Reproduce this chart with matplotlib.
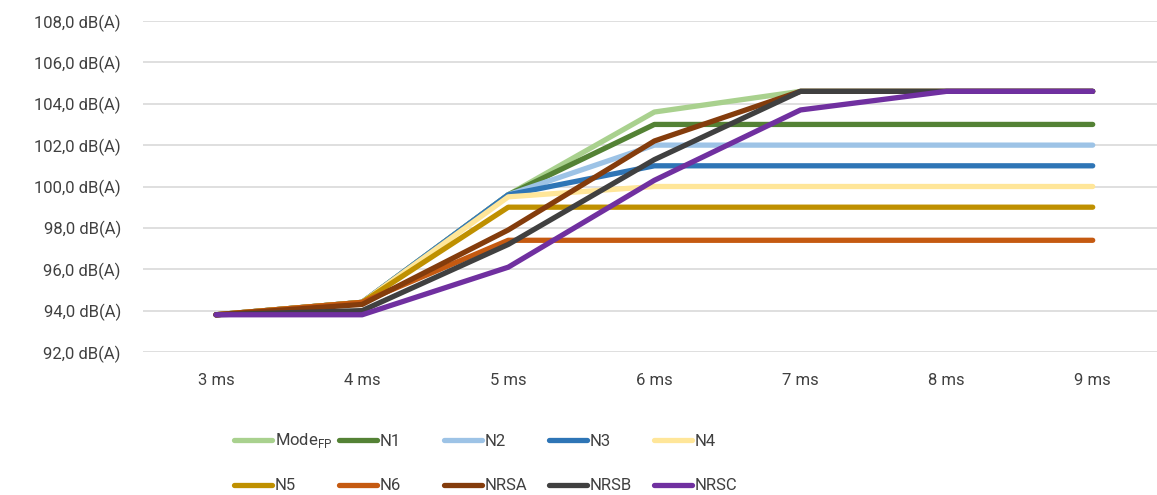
import matplotlib.pyplot as plt
from matplotlib.ticker import FuncFormatter

plt.rcParams['font.family'] = ['Roboto', 'DejaVu Sans']
plt.rcParams['mathtext.fontset'] = 'custom'
plt.rcParams['mathtext.rm'] = 'Roboto'

# data
times = ['3 ms', '4 ms', '5 ms', '6 ms', '7 ms', '8 ms', '9 ms']
mode_fp = [93.8, 94.4, 99.6, 103.6, 104.6, 104.6, 104.6]
n1 = [93.8, 94.4, 99.6, 103.0, 103.0, 103.0, 103.0]
n2 = [93.8, 94.4, 99.6, 102.0, 102.0, 102.0, 102.0]
n3 = [93.8, 94.4, 99.6, 101.0, 101.0, 101.0, 101.0]
n4 = [93.8, 94.4, 99.5, 100.0, 100.0, 100.0, 100.0]
n5 = [93.8, 94.4, 99.0, 99.0, 99.0, 99.0, 99.0]
n6 = [93.8, 94.4, 97.4, 97.4, 97.4, 97.4, 97.4]
nrsa = [93.8, 94.3, 97.9, 102.2, 104.6, 104.6, 104.6]
nrsb = [93.8, 94.0, 97.2, 101.3, 104.6, 104.6, 104.6]
nrsc = [93.8, 93.8, 96.1, 100.3, 103.7, 104.6, 104.6]

names = [r'Mode$_{\mathregular{FP}}$', 'N1', 'N2', 'N3', 'N4',
         'N5', 'N6', 'NRSA', 'NRSB', 'NRSC']
series = [mode_fp, n1, n2, n3, n4, n5, n6, nrsa, nrsb, nrsc]
colors = ['#A9D18E', '#548235', '#9DC3E6', '#2E75B6', '#FFE699',
          '#BF9000', '#C55A11', '#843C0C', '#404040', '#7030A0']

text_col = '#404040'

fig = plt.figure(figsize=(11.57, 4.95), dpi=100)
ax = fig.add_axes([143 / 1157, 1 - 352 / 495, 1 - 143 / 1157, (352 - 21) / 495])

x = list(range(len(times)))
lines = []
for vals, name, c in zip(series, names, colors):
    ln, = ax.plot(x, vals, color=c, lw=3.8, label=name,
                  solid_capstyle='round', solid_joinstyle='round')
    lines.append(ln)

ax.set_xlim(-0.5, 6.44)
ax.set_ylim(92, 108)
ax.set_yticks(range(92, 109, 2))
ax.yaxis.set_major_formatter(FuncFormatter(lambda v, p: f'{v:.1f}'.replace('.', ',') + ' dB(A)'))
ax.set_xticks(x)
ax.set_xticklabels(times)
ax.grid(axis='y', color='#D9D9D9', lw=1.2)
ax.set_axisbelow(True)
for s in ax.spines.values():
    s.set_visible(False)
ax.tick_params(length=0, labelsize=12, colors=text_col)
ax.tick_params(axis='y', pad=16)
ax.tick_params(axis='x', pad=15)

# legend: 5 equal-width columns, 2 rows, one small legend per entry
for i, ln in enumerate(lines):
    row, col = divmod(i, 5)
    leg = fig.legend([ln], [ln.get_label()], loc='center left',
                     bbox_to_anchor=((234 + col * 105) / 1157, 1 - (441 + row * 45) / 495),
                     frameon=False, fontsize=12, handlelength=2.3,
                     handletextpad=0.15, borderaxespad=0, borderpad=0)
    for t in leg.get_texts():
        t.set_color(text_col)

fig.savefig('out.png', dpi=100)
